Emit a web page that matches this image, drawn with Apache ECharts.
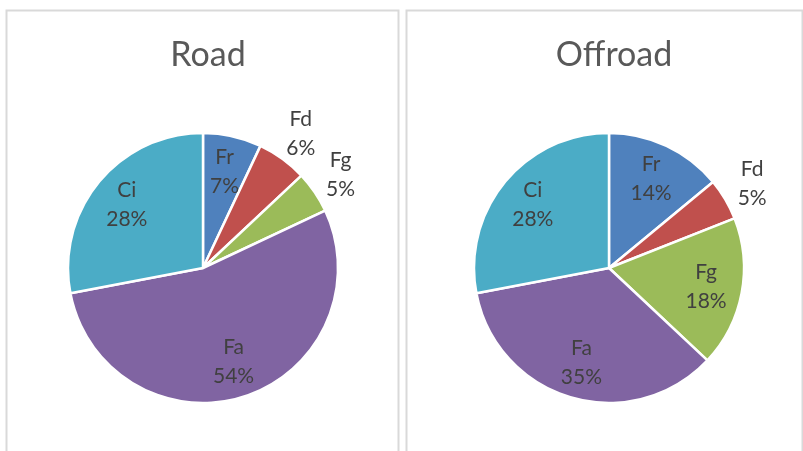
<!DOCTYPE html>
<html>
<head>
<meta charset="utf-8">
<script src="https://cdn.jsdelivr.net/npm/echarts@6/dist/echarts.min.js"></script>
<style>
  html, body { margin: 0; padding: 0; background: #fff; }
  #chart { width: 803px; height: 451px; }
</style>
</head>
<body>
<div id="chart"></div>
<script>
// Force components, clockwise from 12 o'clock
const categories = ['Fr', 'Fd', 'Fg', 'Fa', 'Ci'];
const colors = ['#4F81BD', '#C0504D', '#9BBB59', '#8064A2', '#4BACC6'];

const roadValues = [7, 6, 5, 54, 28];
const offroadValues = [14, 5, 18, 35, 28];

// Slices whose labels sit outside the pie
const roadOutside = ['Fd', 'Fg'];
const offroadOutside = ['Fd'];

const panels = [
  { title: 'Road', values: roadValues, outside: roadOutside, cx: 203, cy: 268 },
  { title: 'Offroad', values: offroadValues, outside: offroadOutside, cx: 609, cy: 268 }
];

const R = 135;
const FONT = 'Lato, "Open Sans", sans-serif';
const TITLE_COLOR = '#595959';
const LABEL_COLOR = '#404040';

function labelStyle(show) {
  return {
    show,
    position: 'inside',
    formatter: '{b}\n{d}%',
    color: LABEL_COLOR, fontFamily: FONT, fontSize: 21, lineHeight: 29
  };
}

function sliceData(values) {
  return categories.map((name, i) => ({ name, value: values[i], itemStyle: { color: colors[i] } }));
}

const series = [];
const titles = [];
panels.forEach(p => {
  // the pie itself
  series.push({
    type: 'pie',
    center: [p.cx, p.cy],
    radius: [0, R],
    startAngle: 90,
    clockwise: true,
    silent: true,
    label: { show: false },
    labelLine: { show: false },
    itemStyle: { borderColor: '#fff', borderWidth: 2.5 },
    emphasis: { disabled: true },
    data: sliceData(p.values)
  });
  // data labels placed inside the slices
  series.push({
    type: 'pie',
    center: [p.cx, p.cy],
    radius: [R * 0.42, R],
    startAngle: 90,
    clockwise: true,
    silent: true,
    avoidLabelOverlap: false,
    itemStyle: { color: 'rgba(0,0,0,0)' },
    emphasis: { disabled: true },
    labelLine: { show: false },
    data: categories.map((name, i) => ({
      name, value: p.values[i], label: labelStyle(!p.outside.includes(name))
    }))
  });
  // data labels placed just outside the rim
  series.push({
    type: 'pie',
    center: [p.cx, p.cy],
    radius: [R, R * 1.42],
    startAngle: 90,
    clockwise: true,
    silent: true,
    avoidLabelOverlap: false,
    itemStyle: { color: 'rgba(0,0,0,0)' },
    emphasis: { disabled: true },
    labelLine: { show: false },
    data: categories.map((name, i) => ({
      name, value: p.values[i], label: labelStyle(p.outside.includes(name))
    }))
  });
  titles.push({
    text: p.title,
    left: p.cx,
    top: 33,
    textAlign: 'center',
    textStyle: { color: TITLE_COLOR, fontFamily: FONT, fontSize: 34, fontWeight: 'normal' }
  });
});

const chart = echarts.init(document.getElementById('chart'), null, { renderer: 'canvas' });
chart.setOption({
  backgroundColor: '#fff',
  animation: false,
  title: titles,
  graphic: [
    { type: 'rect', shape: { x: 6.5, y: 10.5, width: 392, height: 460 }, style: { fill: 'none', stroke: '#d9d9d9', lineWidth: 2 }, z: -10 },
    { type: 'rect', shape: { x: 406.5, y: 10.5, width: 396, height: 460 }, style: { fill: 'none', stroke: '#d9d9d9', lineWidth: 2 }, z: -10 }
  ],
  series
});
</script>
</body>
</html>
